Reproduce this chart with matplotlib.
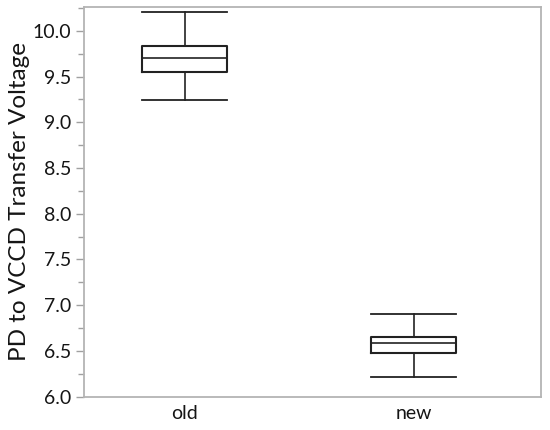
import matplotlib
matplotlib.use("Agg")
import matplotlib.pyplot as plt
from matplotlib.ticker import MultipleLocator, FormatStrFormatter

categories = ["old", "new"]
whisker_low = [9.244, 6.218]
q1 = [9.545, 6.483]
median = [9.698, 6.589]
q3 = [9.836, 6.651]
whisker_high = [10.207, 6.902]
y_label = "PD to VCCD Transfer Voltage"

plt.rcParams['font.family'] = ['Lato', 'DejaVu Sans']

fig = plt.figure(figsize=(5.5, 4.3), dpi=100)
ax = fig.add_axes([0.1527, 0.0774, 0.8309, 0.9063])

stats = []
for i, c in enumerate(categories):
    stats.append(dict(label=c, whislo=whisker_low[i], q1=q1[i], med=median[i],
                      q3=q3[i], whishi=whisker_high[i], fliers=[]))

ax.bxp(stats, positions=[1, 2], widths=0.37, capwidths=0.37, showfliers=False,
       boxprops=dict(color='#222222', linewidth=1.5),
       medianprops=dict(color='#222222', linewidth=1.2),
       whiskerprops=dict(color='#222222', linewidth=1.2),
       capprops=dict(color='#222222', linewidth=1.3))

ax.set_xlim(0.56, 2.555)
ax.set_ylim(6.0, 10.26)
ax.yaxis.set_major_locator(MultipleLocator(0.5))
ax.yaxis.set_minor_locator(MultipleLocator(0.25))
ax.yaxis.set_major_formatter(FormatStrFormatter('%.1f'))

for s in ax.spines.values():
    s.set_color('#b4b4b4')
    s.set_linewidth(1.3)

ax.tick_params(axis='y', which='major', length=6, width=1, color='#a0a0a0',
               labelsize=14, labelcolor='#151515', pad=3)
ax.tick_params(axis='y', which='minor', length=4, width=1, color='#a0a0a0')
ax.tick_params(axis='x', which='both', length=0, labelsize=14, labelcolor='#151515', pad=6)
ax.set_ylabel(y_label, fontsize=17.5, color='#151515', labelpad=2)

fig.savefig("out.png", dpi=100)
